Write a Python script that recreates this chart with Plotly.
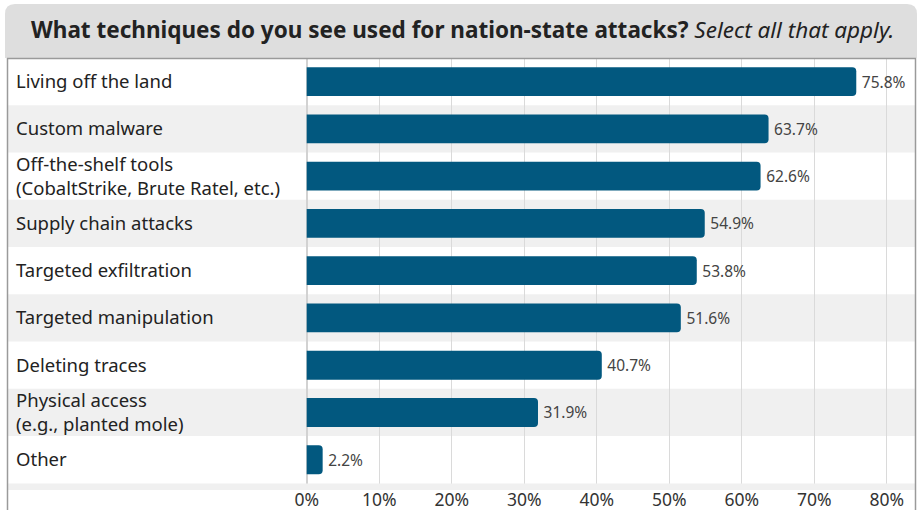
import plotly.graph_objects as go

# Survey answers (share of respondents, %)
categories = [
    "Living off the land",
    "Custom malware",
    "Off-the-shelf tools<br>(CobaltStrike, Brute Ratel, etc.)",
    "Supply chain attacks",
    "Targeted exfiltration",
    "Targeted manipulation",
    "Deleting traces",
    "Physical access<br>(e.g., planted mole)",
    "Other",
]
values = [75.8, 63.7, 62.6, 54.9, 53.8, 51.6, 40.7, 31.9, 2.2]
tick_values = [0, 10, 20, 30, 40, 50, 60, 70, 80]
tick_labels = ["0%", "10%", "20%", "30%", "40%", "50%", "60%", "70%", "80%"]

TITLE = ("<b>What techniques do you see used for nation-state attacks?</b> "
         "<i>Select all that apply.</i>")

W, H = 923, 510
ML, MR, MT, MB = 8, 8, 58, 20
PW, PH = W - ML - MR, H - MT - MB

BAR = "#02587f"
STRIPE = "#f0f0f0"
BORDER = "#9a9a9a"
HEADER = "#dedede"
SANS = "Noto Sans, Open Sans, sans-serif"


def px_x(px):
    return (px - ML) / PW


def px_y(py):
    return (H - MB - py) / PH


n = len(categories)
y_bottom = n - 0.5 + 0.14

fig = go.Figure(
    go.Bar(
        x=values,
        y=categories,
        orientation="h",
        marker=dict(color=BAR, line=dict(width=0)),
        texttemplate="\u2009%{x:.1f}%",
        textposition="outside",
        textfont=dict(family=SANS, size=15.5, color="#444444"),
        cliponaxis=False,
        hoverinfo="skip",
    )
)

shapes = []
# alternating row stripes
for i in range(1, n, 2):
    shapes.append(dict(type="rect", xref="paper", yref="y", x0=0, x1=1,
                       y0=i - 0.5, y1=i + 0.5, fillcolor=STRIPE,
                       line=dict(width=0), layer="below"))
# footer band under the last row
shapes.append(dict(type="rect", xref="paper", yref="y", x0=0, x1=1,
                   y0=n - 0.5, y1=y_bottom, fillcolor=STRIPE,
                   line=dict(width=0), layer="above"))

# header box with rounded top corners
x0, x1 = px_x(5), px_x(917)
y0, y1 = px_y(58), px_y(4)
rx, ry = 10 / PW, 10 / PH
shapes.append(dict(
    type="path", xref="paper", yref="paper",
    path=(f"M{x0},{y0} L{x0},{y1 - ry} Q{x0},{y1} {x0 + rx},{y1} "
          f"L{x1 - rx},{y1} Q{x1},{y1} {x1},{y1 - ry} L{x1},{y0} Z"),
    fillcolor=HEADER, line=dict(width=0), layer="above"))

# frame lines
shapes.append(dict(type="line", xref="paper", yref="paper",
                   x0=px_x(7), x1=px_x(916), y0=px_y(58.5), y1=px_y(58.5),
                   line=dict(color=BORDER, width=1.5), layer="above"))
for xp in (7.5, 915.5):
    shapes.append(dict(type="line", xref="paper", yref="paper",
                       x0=px_x(xp), x1=px_x(xp), y0=px_y(58), y1=px_y(512),
                       line=dict(color=BORDER, width=1.5), layer="above"))

fig.update_layout(
    width=W, height=H,
    margin=dict(l=ML, r=MR, t=MT, b=MB, pad=0, autoexpand=False),
    paper_bgcolor="white",
    plot_bgcolor="rgba(0,0,0,0)",
    showlegend=False,
    bargap=0.39,
    barcornerradius=4,
    shapes=shapes,
    annotations=[dict(
        text=TITLE, xref="paper", yref="paper",
        x=px_x(462), y=px_y(30), xanchor="center", yanchor="middle",
        showarrow=False, font=dict(family=SANS, size=22.5, color="#222222"),
    )],
    xaxis=dict(
        range=[-41.2, 83.9],
        tickmode="array",
        tickvals=tick_values,
        ticktext=tick_labels,
        showgrid=True, gridcolor="#dadada", gridwidth=1,
        zeroline=True, zerolinecolor="#d2d2d2", zerolinewidth=2,
        showline=False, ticks="",
        ticklabelstandoff=-3,
        tickfont=dict(family=SANS, size=17.5, color="#333333"),
        automargin=False,
        fixedrange=True,
    ),
    yaxis=dict(
        categoryorder="array", categoryarray=categories,
        range=[y_bottom, -0.5],
        ticklabelposition="inside",
        ticklabelstandoff=5,
        ticks="", showgrid=False, zeroline=False, showline=False,
        tickfont=dict(family=SANS, size=18.5, color="#222222"),
        automargin=False,
        fixedrange=True,
    ),
)

fig.write_html("out.html")
